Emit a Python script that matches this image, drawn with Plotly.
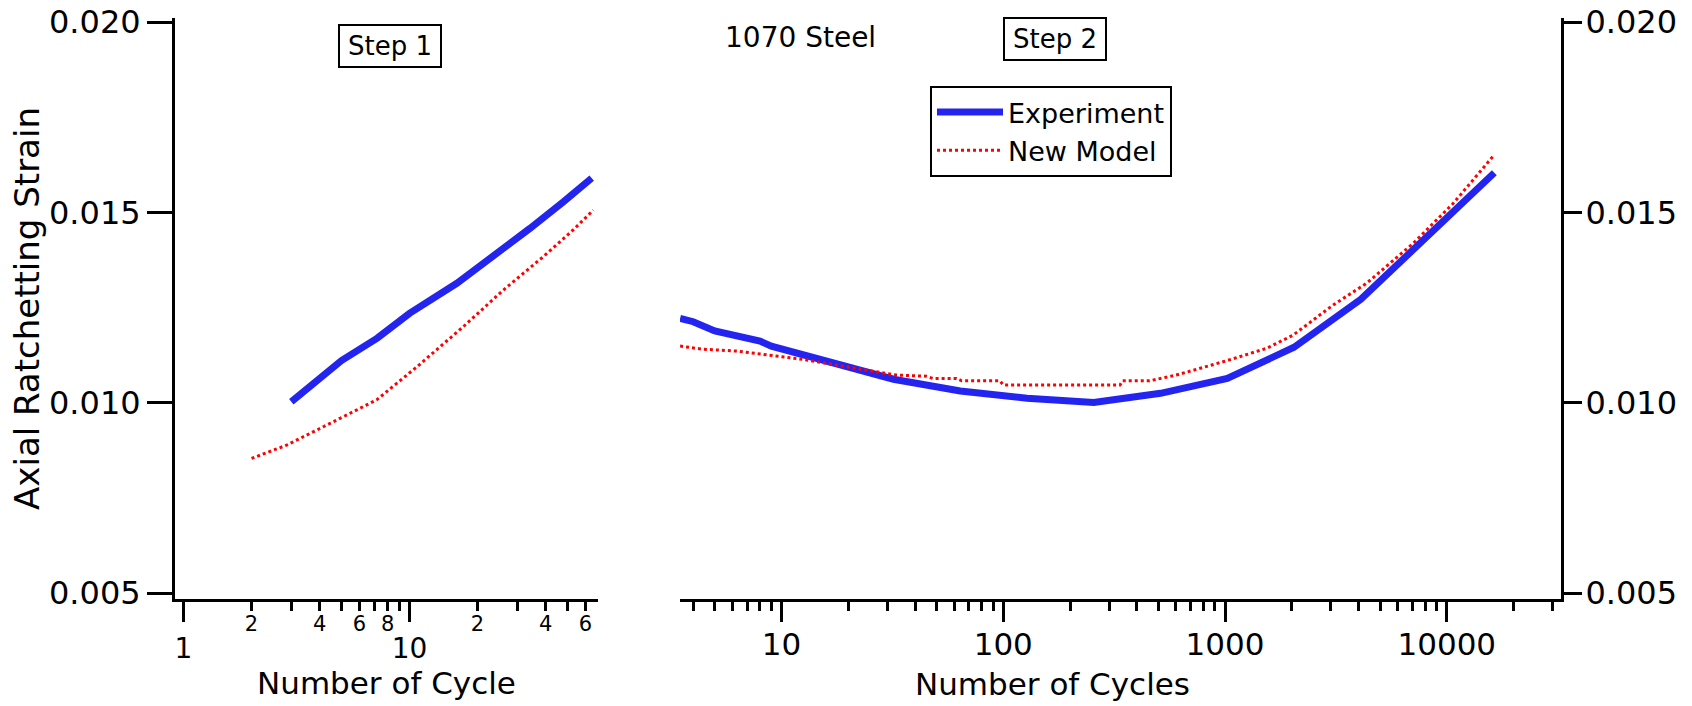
import plotly.graph_objects as go

# ---- Step 1: axial ratchetting strain vs cycle number ----
step1_exp_cycles = [3, 3.9, 5, 7.2, 10, 16.2, 24.3, 34.1, 48, 64]
step1_exp_strain = [0.01003, 0.01060, 0.01111, 0.01170, 0.01235, 0.01314, 0.01391, 0.01458, 0.01528, 0.01590]

step1_model_cycles = [2, 2.86, 4.45, 7.16, 10.8, 17.3, 26, 39.1, 53, 65]
step1_model_strain = [0.00854, 0.00889, 0.00946, 0.01008, 0.01095, 0.01200, 0.01296, 0.01384, 0.01454, 0.01506]

# ---- Step 2 ----
step2_exp_cycles = [3.49, 4, 5, 6, 7, 8, 9, 16, 32, 64, 128, 256, 512, 1024, 2048, 4096, 8192, 16384]
step2_exp_strain = [0.01222, 0.01213, 0.01189, 0.01178, 0.01170, 0.01162, 0.01149, 0.01109, 0.01062,
                    0.01031, 0.01012, 0.01001, 0.01025, 0.01064, 0.01146, 0.01272, 0.01436, 0.01604]

step2_model_cycles = [3.49, 4.4, 6.3, 8.6, 12.5, 20.4, 33, 45, 48.3, 61.6, 64.9, 96.6, 100, 336, 345,
                      457, 603, 981, 1540, 2030, 3073, 4350, 7060, 10700, 16200]
step2_model_strain = [0.01149, 0.01141, 0.01136, 0.01126, 0.01114, 0.01093, 0.01073, 0.01070, 0.01064,
                      0.01064, 0.01058, 0.01058, 0.01047, 0.01047, 0.01058, 0.01058, 0.01073, 0.01108,
                      0.01143, 0.01178, 0.01257, 0.01314, 0.01419, 0.01524, 0.01648]

# ---- axis ticks ----
strain_ticks = [0.005, 0.010, 0.015, 0.020]
strain_ticktext = ["0.005", "0.010", "0.015", "0.020"]
step1_major = [1, 10]
step1_major_text = ["1", "10"]
step1_minor = [2, 3, 4, 5, 6, 7, 8, 9, 20, 30, 40, 50, 60]
step1_minor_labels = [2, 4, 6, 8, 20, 40, 60]
step1_minor_text = ["2", "4", "6", "8", "2", "4", "6"]
step2_major = [10, 100, 1000, 10000]
step2_major_text = ["10", "100", "1000", "10000"]
step2_minor = [4, 5, 6, 7, 8, 9] + [m * d for d in (10, 100, 1000) for m in range(2, 10)] + [20000, 30000]

BLUE = "rgb(36,36,240)"
RED = "rgb(255,0,0)"
FONT = "DejaVu Sans"

W, H = 1692, 706
ML, MR, MT, MB = 175, 131, 18, 107
Y_RANGE = [0.00485, 0.020105]
X1_RANGE = [-0.0376, 1.834]
X2_RANGE = [0.5424, 4.515]

exp_line = dict(color=BLUE, width=7)
model_line = dict(color=RED, width=3, dash="3px,3px")

fig = go.Figure()

fig.add_trace(go.Scatter(x=step1_exp_cycles, y=step1_exp_strain, mode="lines", name="Experiment",
                         line=exp_line, xaxis="x", yaxis="y"))
fig.add_trace(go.Scatter(x=step1_model_cycles, y=step1_model_strain, mode="lines", name="New Model",
                         line=model_line, xaxis="x", yaxis="y"))
fig.add_trace(go.Scatter(x=step2_exp_cycles, y=step2_exp_strain, mode="lines", name="Experiment",
                         line=exp_line, xaxis="x2", yaxis="y2", showlegend=False))
fig.add_trace(go.Scatter(x=step2_model_cycles, y=step2_model_strain, mode="lines", name="New Model",
                         line=model_line, xaxis="x2", yaxis="y2", showlegend=False))
# transparent carrier so the overlaid minor-label axis gets drawn
fig.add_trace(go.Scatter(x=step1_exp_cycles, y=step1_exp_strain, mode="lines", opacity=0,
                         line=dict(width=0), hoverinfo="skip", showlegend=False,
                         xaxis="x3", yaxis="y"))

pw, ph = W - ML - MR, H - MT - MB


def px(x):
    return (x - ML) / pw


def py(y):
    return 1 - (y - MT) / ph


d1 = [0, px(598)]
d2 = [px(680), 1]

axis_common = dict(showgrid=False, zeroline=False, showline=True, linecolor="black", linewidth=3,
                   ticks="outside", tickcolor="black", tickwidth=2.5, automargin=False)

fig.update_layout(
    width=W, height=H,
    margin=dict(l=ML, r=MR, t=MT, b=MB, autoexpand=False),
    paper_bgcolor="white", plot_bgcolor="white",
    font=dict(family=FONT, color="black"),
    xaxis=dict(axis_common, type="log", domain=d1, range=X1_RANGE, anchor="y",
               tickvals=step1_major, ticktext=step1_major_text, ticklen=20,
               tickfont=dict(size=28), ticklabelstandoff=2,
               minor=dict(tickvals=step1_minor, ticklen=9, tickwidth=2.5, tickcolor="black", ticks="outside"),
               title=dict(text="Number of Cycle", font=dict(size=31), standoff=2)),
    xaxis3=dict(type="log", domain=d1, range=X1_RANGE, anchor="y", overlaying="x", side="bottom",
                showgrid=False, zeroline=False, showline=False, ticks="", automargin=False,
                tickvals=step1_minor_labels, ticktext=step1_minor_text,
                tickfont=dict(size=21), ticklabelstandoff=10),
    yaxis=dict(axis_common, domain=[0, 1], range=Y_RANGE, anchor="x",
               tickvals=strain_ticks, ticktext=strain_ticktext, ticklen=25,
               tickfont=dict(size=32),
               title=dict(text="Axial Ratchetting Strain", font=dict(size=34), standoff=0)),
    xaxis2=dict(axis_common, type="log", domain=d2, range=X2_RANGE, anchor="y2",
                tickvals=step2_major, ticktext=step2_major_text, ticklen=20,
                tickfont=dict(size=31), ticklabelstandoff=-4,
                minor=dict(tickvals=step2_minor, ticklen=9, tickwidth=2.5, tickcolor="black", ticks="outside")),
    yaxis2=dict(axis_common, domain=[0, 1], range=Y_RANGE, anchor="x2", side="right",
                tickvals=strain_ticks, ticktext=strain_ticktext, ticklen=18,
                tickfont=dict(size=32), ticklabelstandoff=-3),
    legend=dict(x=px(930), y=py(86), xanchor="left", yanchor="top", bgcolor="white",
                bordercolor="black", borderwidth=2, font=dict(size=27), itemwidth=66,
                tracegroupgap=0),
    showlegend=True,
)

fig.add_annotation(text="Number of Cycles", x=px(1052), y=py(684), xref="paper", yref="paper",
                   xanchor="center", yanchor="middle", showarrow=False, font=dict(size=31))
fig.add_annotation(text="Step 1", x=px(390), y=py(46.4), xref="paper", yref="paper",
                   xanchor="center", yanchor="middle", showarrow=False,
                   font=dict(size=26), bordercolor="black", borderwidth=2, borderpad=3, width=94, height=34)
fig.add_annotation(text="Step 2", x=px(1055), y=py(39.4), xref="paper", yref="paper",
                   xanchor="center", yanchor="middle", showarrow=False,
                   font=dict(size=26), bordercolor="black", borderwidth=2, borderpad=3, width=94, height=34)
fig.add_annotation(text="1070 Steel", x=px(800), y=py(37.8), xref="paper", yref="paper",
                   xanchor="center", yanchor="middle", showarrow=False, font=dict(size=28))

fig.write_html("out.html")
